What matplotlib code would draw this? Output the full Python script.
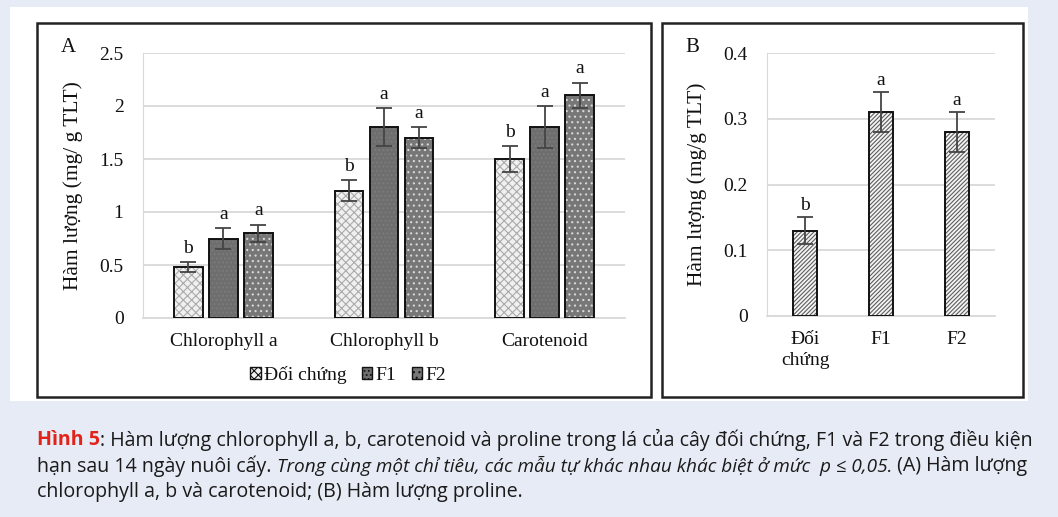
import matplotlib
matplotlib.use("Agg")
import matplotlib.pyplot as plt
from matplotlib.patches import Rectangle
import numpy as np

# ---- data ----
categories_A = ["Chlorophyll a", "Chlorophyll b", "Carotenoid"]
series_names = ["Đối chứng", "F1", "F2"]
ctrl_vals = [0.48, 1.20, 1.50]
ctrl_err = [0.05, 0.10, 0.12]
f1_vals = [0.75, 1.80, 1.80]
f1_err = [0.10, 0.18, 0.20]
f2_vals = [0.80, 1.70, 2.10]
f2_err = [0.08, 0.10, 0.12]
ctrl_sig = ["b", "b", "b"]
f1_sig = ["a", "a", "a"]
f2_sig = ["a", "a", "a"]

categories_B = ["Đối\nchứng", "F1", "F2"]
proline_vals = [0.13, 0.31, 0.28]
proline_err = [0.02, 0.03, 0.03]
proline_sig = ["b", "a", "a"]

yticks_A = [0, 0.5, 1, 1.5, 2, 2.5]
yticklabels_A = ["0", "0.5", "1", "1.5", "2", "2.5"]
yticks_B = [0, 0.1, 0.2, 0.3, 0.4]
yticklabels_B = ["0", "0.1", "0.2", "0.3", "0.4"]

W, H = 1058, 517
fig = plt.figure(figsize=(W / 100, H / 100), dpi=100)
fig.patch.set_facecolor("#e7ebf5")
SERIF = "Liberation Serif"
TXT = "#111111"
FS = 14
FSL = 15.5


def px_rect(x0, y0, x1, y1):
    return [x0 / W, 1 - y1 / H, (x1 - x0) / W, (y1 - y0) / H]


def fig_rect(x0, y0, x1, y1, **kw):
    r = Rectangle((x0 / W, 1 - y1 / H), (x1 - x0) / W, (y1 - y0) / H,
                  transform=fig.transFigure, **kw)
    fig.patches.append(r)


# white panel and boxes
fig_rect(10, 7, 1028, 401, facecolor="white", edgecolor="none", zorder=-5)
fig_rect(37, 23, 651, 397, facecolor="none", edgecolor="#222222", lw=1.8, zorder=-4)
fig_rect(662, 23, 1023, 397, facecolor="none", edgecolor="#222222", lw=1.8, zorder=-4)

plt.rcParams["hatch.linewidth"] = 0.8

# ---- panel A ----
axA = fig.add_axes(px_rect(143, 53, 625, 318))
x = np.arange(len(categories_A))
bw = 0.18
off = 0.218
styles = [
    dict(face="#f0f0f0", hatch="xxxx", hcolor="#aaaaaa"),
    dict(face="#6e6e6e", hatch="....", hcolor="#7c7c7c"),
    dict(face="#777777", hatch="...", hcolor="#d8d8d8"),
]
vals = [ctrl_vals, f1_vals, f2_vals]
errs = [ctrl_err, f1_err, f2_err]
sigs = [ctrl_sig, f1_sig, f2_sig]
for i, (v, e, s, st) in enumerate(zip(vals, errs, sigs, styles)):
    pos = x + (i - 1) * off
    axA.bar(pos, v, bw, color=st["face"], hatch=st["hatch"], edgecolor=st["hcolor"],
            linewidth=0, zorder=2)
    axA.bar(pos, v, bw, fill=False, edgecolor="#111111", linewidth=1.4, zorder=3)
    axA.errorbar(pos, v, yerr=e, fmt="none", ecolor="#444444", elinewidth=1.3,
                 capsize=5.5, capthick=1.3, zorder=4)
    for p, vv, ee, ss in zip(pos, v, e, s):
        axA.text(p, vv + ee + 0.05, ss, ha="center", va="bottom",
                 family=SERIF, fontsize=FS, color=TXT)

axA.set_xlim(-0.5, 2.5)
axA.set_ylim(0, 2.5)
axA.set_yticks(yticks_A)
axA.set_yticklabels(yticklabels_A, family=SERIF, fontsize=FS, color=TXT)
axA.set_xticks(x)
axA.set_xticklabels(categories_A, family=SERIF, fontsize=FS, color=TXT)
axA.grid(axis="y", color="#d9d9d9", linewidth=1.3, zorder=0)
axA.set_axisbelow(True)
for sp in ["top", "right"]:
    axA.spines[sp].set_visible(False)
axA.spines["left"].set_color("#d9d9d9")
axA.spines["bottom"].set_color("#d9d9d9")
axA.spines["bottom"].set_linewidth(1.3)
axA.tick_params(axis="both", length=0, pad=14)
axA.tick_params(axis="x", pad=11)
axA.set_facecolor("none")
axA.set_ylabel("Hàm lượng (mg/ g TLT)", family=SERIF, fontsize=FSL, labelpad=12, color=TXT)
fig.text(68 / W, 1 - 47 / H, "A", family=SERIF, fontsize=15, ha="center", va="center",
         color=TXT)

# legend A
handles = []
for st, name in zip(styles, series_names):
    handles.append(Rectangle((0, 0), 1, 1, facecolor=st["face"], hatch=st["hatch"],
                             edgecolor="#111111", linewidth=1.0))
leg = fig.legend(handles, series_names, loc="center", bbox_to_anchor=(348 / W, 1 - 375 / H),
                 ncol=3, frameon=False, prop=dict(family=SERIF, size=FS),
                 handlelength=0.55, handleheight=0.55, handletextpad=0.15, columnspacing=0.8)
for tx in leg.get_texts():
    tx.set_color(TXT)

# ---- panel B ----
axB = fig.add_axes(px_rect(767, 53, 995, 316))
xb = np.arange(len(categories_B))
axB.bar(xb, proline_vals, 0.32, color="#f4f4f4", hatch="////////", edgecolor="#5e5e5e",
        linewidth=0, zorder=2)
axB.bar(xb, proline_vals, 0.32, fill=False, edgecolor="#111111", linewidth=1.4, zorder=3)
axB.errorbar(xb, proline_vals, yerr=proline_err, fmt="none", ecolor="#444444",
             elinewidth=1.3, capsize=5.5, capthick=1.3, zorder=4)
for p, vv, ee, ss in zip(xb, proline_vals, proline_err, proline_sig):
    axB.text(p, vv + ee + 0.005, ss, ha="center", va="bottom", family=SERIF, fontsize=FS,
             color=TXT)
axB.set_xlim(-0.5, 2.5)
axB.set_ylim(0, 0.4)
axB.set_yticks(yticks_B)
axB.set_yticklabels(yticklabels_B, family=SERIF, fontsize=FS, color=TXT)
axB.set_xticks(xb)
axB.set_xticklabels(categories_B, family=SERIF, fontsize=FS, linespacing=1.25, va="top",
                    color=TXT)
axB.grid(axis="y", color="#d9d9d9", linewidth=1.3, zorder=0)
axB.set_axisbelow(True)
for sp in ["top", "right"]:
    axB.spines[sp].set_visible(False)
axB.spines["left"].set_color("#d9d9d9")
axB.spines["bottom"].set_color("#d9d9d9")
axB.spines["bottom"].set_linewidth(1.3)
axB.tick_params(axis="both", length=0, pad=14)
axB.tick_params(axis="x", pad=11)
axB.set_facecolor("none")
axB.set_ylabel("Hàm lượng (mg/g TLT)", family=SERIF, fontsize=FSL, labelpad=12, color=TXT)
fig.text(692 / W, 1 - 48 / H, "B", family=SERIF, fontsize=15, ha="center", va="center",
         color=TXT)

# ---- caption ----
CAP = "Open Sans"
cap_size = 14.1
y1 = 1 - 440 / H
t = fig.text(37 / W, y1, "Hình 5", family=CAP, fontsize=cap_size, color="#e2231a",
             fontweight="bold", va="center")
fig.canvas.draw()
r = fig.canvas.get_renderer()
bb = t.get_window_extent(r)
fig.text(bb.x1 / W, y1,
         ": Hàm lượng chlorophyll a, b, carotenoid và proline trong lá của cây đối chứng, F1 và F2 trong điều kiện",
         family=CAP, fontsize=cap_size, va="center", color="#1a1a1a")
y2 = 1 - 466 / H
t2 = fig.text(37 / W, y2, "hạn sau 14 ngày nuôi cấy. ", family=CAP, fontsize=cap_size,
              va="center", color="#1a1a1a")
bb2 = t2.get_window_extent(r)
t3 = fig.text(bb2.x1 / W, y2,
              "Trong cùng một chỉ tiêu, các mẫu tự khác nhau khác biệt ở mức  p ≤ 0,05.",
              family=CAP, fontsize=13.7, va="center", style="italic", color="#1a1a1a")
bb3 = t3.get_window_extent(r)
fig.text(bb3.x1 / W, y2, " (A) Hàm lượng", family=CAP, fontsize=cap_size, va="center",
         color="#1a1a1a")
fig.text(37 / W, 1 - 492 / H, "chlorophyll a, b và carotenoid; (B) Hàm lượng proline.",
         family=CAP, fontsize=cap_size, va="center", color="#1a1a1a")

fig.savefig("out.png", dpi=100, facecolor=fig.get_facecolor())
